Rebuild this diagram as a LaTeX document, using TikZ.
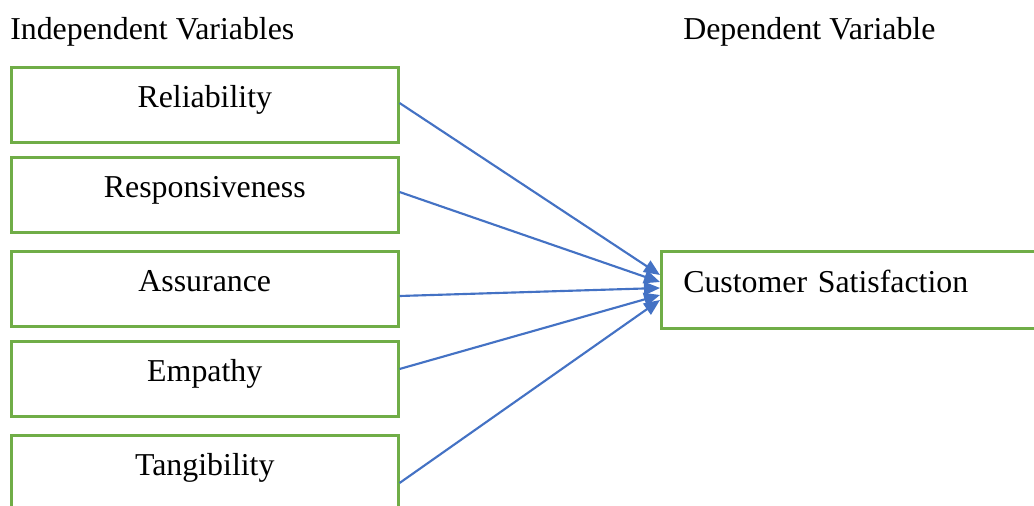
\documentclass[tikz,border=0pt]{standalone}
\usepackage{fontspec}
\setmainfont{Liberation Serif}
\usetikzlibrary{arrows.meta,positioning}
\definecolor{boxgreen}{HTML}{70AD47}
\definecolor{arrblue}{HTML}{4472C4}
\begin{document}
\begin{tikzpicture}[x=0.75pt,y=-0.75pt,
  every node/.style={font=\fontsize{23.9}{28}\selectfont},
  varbox/.style={draw=boxgreen,line width=1.9pt,rectangle,inner sep=0pt,
    minimum width=290.25pt,minimum height=56.25pt,anchor=north west,
    text width=290.25pt,align=center,text height=30pt,text depth=26pt},
  depbox/.style={draw=boxgreen,line width=1.9pt,rectangle,inner xsep=16.5pt,inner ysep=0pt,
    minimum height=57.75pt,anchor=north west,text width=290pt,align=left,
    text height=30.75pt,text depth=27pt},
  heading/.style={anchor=base west,inner sep=0pt},
  arr/.style={draw=arrblue,line width=1.6pt,-{Triangle[length=12pt,width=10pt]}}]
\clip (0,0) rectangle (1034,506);
\node[heading] (ih) at (10,40) {Independent Variables};
\node[heading] (dh) at (683,40) {Dependent Variable};
\node[varbox] (rel) at (10,66) {Reliability};
\node[varbox] (res) at (10,156) {Responsiveness};
\node[varbox] (ass) at (10,250) {Assurance};
\node[varbox] (emp) at (10,340) {Empathy};
\node[varbox] (tan) at (10,434) {Tangibility};
\node[depbox] (cs) at (660,250) {Customer Satisfaction};
\draw[arr] ([shift={(0,37)}]rel.north east) -- ([shift={(0,25)}]cs.north west);
\draw[arr] ([shift={(0,36)}]res.north east) -- ([shift={(0,32)}]cs.north west);
\draw[arr] ([shift={(0,46)}]ass.north east) -- ([shift={(0,38)}]cs.north west);
\draw[arr] ([shift={(0,29)}]emp.north east) -- ([shift={(0,45)}]cs.north west);
\draw[arr] ([shift={(0,49)}]tan.north east) -- ([shift={(0,50)}]cs.north west);
\end{tikzpicture}
\end{document}
